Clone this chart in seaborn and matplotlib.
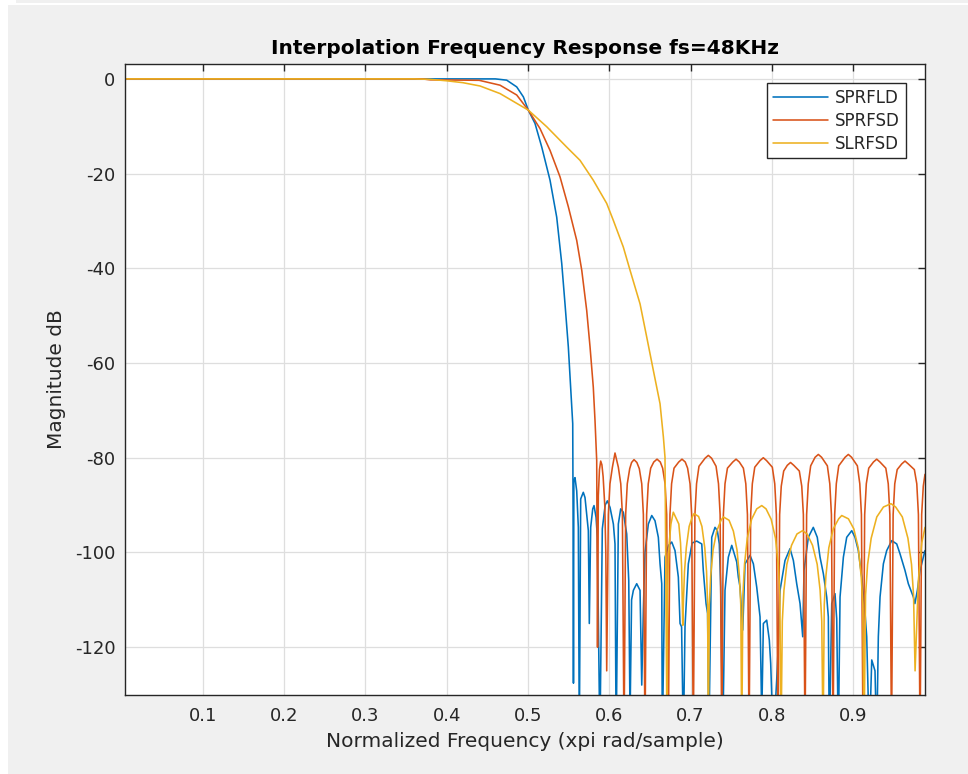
import numpy as np
import pandas as pd
import matplotlib
matplotlib.use('Agg')
import matplotlib.pyplot as plt
import seaborn as sns
from matplotlib.patches import Rectangle

series_names = ['SPRFLD', 'SPRFSD', 'SLRFSD']
series_colors = ['#0072BD', '#D95319', '#EDB120']
x_ticks = [0.1, 0.2, 0.3, 0.4, 0.5, 0.6, 0.7, 0.8, 0.9]
x_tick_labels = ['0.1', '0.2', '0.3', '0.4', '0.5', '0.6', '0.7', '0.8', '0.9']
y_ticks = [-120, -100, -80, -60, -40, -20, 0]
y_tick_labels = ['-120', '-100', '-80', '-60', '-40', '-20', '0']

# SPRFLD (blue)
sprfld_x = [0.0, 0.46, 0.4739, 0.4862, 0.4944, 0.5005, 0.5087, 0.5170, 0.5272, 0.5354,
            0.5416, 0.5456, 0.5497, 0.5526, 0.5551, 0.5556, 0.5560, 0.5565, 0.5579, 0.5600,
            0.5620, 0.5632, 0.5649, 0.5681, 0.5702, 0.5723, 0.5743, 0.5755, 0.5772, 0.5797,
            0.5813, 0.5838, 0.5854, 0.5885, 0.5915, 0.5950, 0.5977, 0.6010, 0.6051, 0.6071,
            0.6085, 0.6112, 0.6141, 0.6173, 0.6215, 0.6240, 0.6256, 0.6275, 0.6297, 0.6338,
            0.6379, 0.6400, 0.6420, 0.6440, 0.6481, 0.6523, 0.6563, 0.6604, 0.6625, 0.6646,
            0.6653, 0.6686, 0.6730, 0.6769, 0.6809, 0.6850, 0.6871, 0.6890, 0.6912, 0.6932,
            0.6973, 0.7020, 0.7076, 0.7138, 0.7157, 0.7191, 0.7210, 0.7225, 0.7261, 0.7301,
            0.7330, 0.7354, 0.7371, 0.7396, 0.7424, 0.7465, 0.7507, 0.7568, 0.7588, 0.7609,
            0.7642, 0.7670, 0.7732, 0.7773, 0.7814, 0.7855, 0.7876, 0.7896, 0.7937, 0.7969,
            0.7986, 0.8018, 0.8060, 0.8080, 0.8101, 0.8162, 0.8224, 0.8265, 0.8306, 0.8347,
            0.8380, 0.8396, 0.8449, 0.8510, 0.8559, 0.8593, 0.8634, 0.8675, 0.8695, 0.8707,
            0.8737, 0.8777, 0.8798, 0.8818, 0.8839, 0.8880, 0.8921, 0.8983, 0.9023, 0.9064,
            0.9106, 0.9147, 0.9167, 0.9199, 0.9229, 0.9269, 0.9290, 0.9310, 0.9331, 0.9372,
            0.9413, 0.9475, 0.9536, 0.9577, 0.9638, 0.9679, 0.9741, 0.9760, 0.9790, 0.9823,
            0.9884]
sprfld_db = [0, 0, -0.27, -1.69, -3.8, -6.6, -9.4, -14.4, -21.4, -29.2,
             -39.0, -47.5, -56.6, -65.1, -72.8, -94.7, -127.6, -84.9, -84.2, -87.0,
             -94.7, -140, -88.7, -87.3, -88.4, -91.9, -95.4, -115, -94.7, -90.8,
             -90.1, -92.6, -96.8, -140, -95, -90, -89.1, -90.5, -94, -98.2,
             -140, -94, -90.8, -91.5, -96.1, -105.9, -135, -110, -108, -106.6,
             -108, -128, -112, -100, -94, -92.2, -93.3, -96.8, -102.4, -106.6,
             -140, -101, -98.5, -97.8, -99.6, -105.2, -115, -115.7, -140, -115.7,
             -102.4, -98, -97.6, -98.2, -103.8, -110.8, -112.9, -140, -96.8, -94.7,
             -95.4, -98.2, -107.3, -140, -108, -101, -98.5, -102, -105.2, -107.3,
             -116.4, -102.4, -100.6, -102.4, -107.3, -113.6, -135, -115, -114.3, -118.5,
             -123.4, -140, -126.9, -119.2, -108, -101.7, -99.2, -101.7, -106.6, -110.8,
             -117.8, -103.8, -96.8, -94.7, -96.8, -101, -104.5, -109.4, -113.6, -140,
             -110.8, -108.7, -114, -140, -109.4, -101, -96.8, -95.4, -96.8, -99.6,
             -105.2, -112.9, -117.8, -140, -122.7, -125, -140, -117.8, -109.4, -102.4,
             -99.6, -97.5, -98.2, -100.3, -103.8, -106.6, -109.4, -110.8, -108, -103.8,
             -99.6]

# SPRFSD (orange)
sprfsd_x = [0.0, 0.37, 0.38, 0.44, 0.4657, 0.4862, 0.5005, 0.5149, 0.5272, 0.5395,
            0.5497, 0.5600, 0.5662, 0.5723, 0.5764, 0.5804, 0.5825, 0.5846, 0.5856,
            0.5866, 0.5880, 0.5895, 0.5910, 0.5925, 0.5945, 0.5958, 0.5969,
            0.5989, 0.6009, 0.6039, 0.6071, 0.6112, 0.6142, 0.6162, 0.6182,
            0.6202, 0.6222, 0.6252, 0.6275, 0.6305, 0.6340, 0.6370, 0.6400, 0.6420, 0.6440,
            0.6460, 0.6480, 0.6510, 0.6548, 0.6588, 0.6628, 0.6657, 0.6687, 0.6707, 0.6727,
            0.6747, 0.6767, 0.6797, 0.6855, 0.6895, 0.6935, 0.6964, 0.6994, 0.7014, 0.7034,
            0.7054, 0.7074, 0.7104, 0.7179, 0.7219, 0.7259, 0.7314, 0.7344, 0.7364, 0.7384,
            0.7404, 0.7424, 0.7454, 0.7520, 0.7560, 0.7600, 0.7650, 0.7680, 0.7700, 0.7720,
            0.7740, 0.7760, 0.7790, 0.7855, 0.7895, 0.7935, 0.8006, 0.8036, 0.8056, 0.8076,
            0.8096, 0.8116, 0.8146, 0.8190, 0.8230, 0.8270, 0.8338, 0.8368, 0.8388, 0.8408,
            0.8428, 0.8448, 0.8478, 0.8532, 0.8572, 0.8612, 0.8683, 0.8713, 0.8733, 0.8753,
            0.8773, 0.8793, 0.8823, 0.8901, 0.8941, 0.8981, 0.9052, 0.9082, 0.9102, 0.9122,
            0.9142, 0.9162, 0.9192, 0.9250, 0.9290, 0.9330, 0.9402, 0.9432, 0.9452, 0.9472,
            0.9492, 0.9512, 0.9542, 0.9598, 0.9638, 0.9678, 0.9753, 0.9783, 0.9803, 0.9823,
            0.9843, 0.9863, 0.9884]
sprfsd_db = [0, 0, -0.2, -0.3, -1.33, -3.4, -6.6, -10.5, -15.1, -20.7,
             -27.0, -34.1, -40.4, -48.9, -56.6, -65.1, -72.1, -80.6, -120,
             -88, -82.5, -80.7, -81.5, -84, -90, -100, -125,
             -92, -85.5, -82, -79, -82, -85.5, -92, -140,
             -92, -85.5, -82.3, -81, -80.4, -81, -82.3, -85.5, -92, -140,
             -92, -85.5, -82.2, -80.9, -80.3, -80.9, -82.2, -85.5, -92, -140,
             -92, -85.5, -82.2, -80.9, -80.3, -80.9, -82.2, -85.5, -92, -140,
             -92, -85.5, -81.8, -80.1, -79.5, -80.1, -81.8, -85.5, -92, -140,
             -92, -85.5, -82.2, -80.9, -80.3, -80.9, -82.2, -85.5, -92, -140,
             -92, -85.5, -82.0, -80.6, -80.0, -80.6, -82.0, -85.5, -92, -140,
             -92, -86.0, -82.8, -81.6, -81.0, -81.6, -82.8, -86.0, -92, -140,
             -92, -85.5, -81.7, -79.9, -79.3, -79.9, -81.7, -85.5, -92, -140,
             -92, -85.5, -81.7, -79.9, -79.3, -79.9, -81.7, -85.5, -92, -140,
             -92, -85.5, -82.2, -80.9, -80.3, -80.9, -82.2, -85.5, -92, -140,
             -92, -85.5, -82.5, -81.3, -80.7, -81.3, -82.5, -85.5, -92, -140,
             -92, -86, -83.5]

# SLRFSD (yellow)
slrfsd_x = [0.0, 0.36, 0.38, 0.40, 0.42, 0.4411, 0.4657, 0.5005, 0.5231, 0.5477,
            0.5641, 0.5804, 0.5969, 0.6051, 0.6173, 0.6256, 0.6379, 0.6461, 0.6542, 0.6625,
            0.6666, 0.6686, 0.6711,
            0.6717, 0.6725, 0.6738, 0.6759, 0.6788, 0.6856, 0.6877, 0.6890, 0.6898, 0.6904,
            0.6913, 0.6926, 0.6948, 0.6983, 0.7024, 0.7043, 0.7099, 0.7140, 0.7175, 0.7197,
            0.7210, 0.7219,
            0.7231, 0.7248, 0.7277, 0.7322, 0.7375, 0.7404, 0.7474, 0.7527, 0.7572, 0.7601,
            0.7618, 0.7630,
            0.7644, 0.7664, 0.7698, 0.7751, 0.7814, 0.7876, 0.7929, 0.7992, 0.8045, 0.8079,
            0.8099, 0.8113,
            0.8129, 0.8149, 0.8185, 0.8242, 0.8309, 0.8378, 0.8434, 0.8501, 0.8558, 0.8594,
            0.8614, 0.8630,
            0.8645, 0.8665, 0.8701, 0.8756, 0.8822, 0.8860, 0.8942, 0.9008, 0.9063, 0.9099,
            0.9119, 0.9134,
            0.9153, 0.9178, 0.9222, 0.9291, 0.9373, 0.9466, 0.9523, 0.9605, 0.9674, 0.9718,
            0.9743, 0.9762,
            0.9802, 0.9844, 0.9884]
slrfsd_db = [0, 0, -0.1, -0.4, -0.8, -1.5, -3.1, -6.6, -10.1, -14.4,
             -17.2, -21.4, -26.3, -29.9, -35.5, -40.4, -47.5, -54.5, -61.5, -68.6,
             -75.6, -79.9, -140,
             -110, -103, -98, -94, -91.5, -94, -98, -103, -110, -115.4,
             -110, -104, -99, -94.5, -92.4, -91.8, -92.4, -94.5, -99, -104,
             -111, -140,
             -111, -105, -99.5, -95.5, -93.2, -92.5, -93.2, -95.5, -99.5, -105,
             -111, -140,
             -109, -102.5, -97, -93, -90.8, -90.1, -90.8, -93, -97, -102.5,
             -109, -140,
             -114.5, -108, -102.5, -98.5, -96.1, -95.4, -96.1, -98.5, -102.5, -108,
             -114.5, -140,
             -111, -105, -99, -95, -92.9, -92.2, -92.9, -95, -99, -105,
             -111, -140,
             -109, -102.5, -97, -92.5, -90.4, -89.7, -90.4, -92.5, -97, -102.5,
             -109, -125,
             -106, -98, -94.7]

sns.set_theme(style='white')
plt.rcParams['font.family'] = ['DejaVu Sans']
plt.rcParams['axes.unicode_minus'] = False

W, H = 968, 774
fig = plt.figure(figsize=(W / 100, H / 100), dpi=100, facecolor='white')
fig.patches.append(Rectangle((8 / W, 0), 1, (H - 5) / H, transform=fig.transFigure,
                             facecolor='#f0f0f0', edgecolor='none', zorder=-10))
fig.patches.append(Rectangle((16 / W, (H - 3) / H), 1, 3 / H, transform=fig.transFigure,
                             facecolor='#f0f0f0', edgecolor='none', zorder=-10))

ax = fig.add_axes([125 / W, (H - 695) / H, 800 / W, (695 - 63.5) / H])
ax.set_facecolor('white')

data = [(sprfld_x, sprfld_db), (sprfsd_x, sprfsd_db), (slrfsd_x, slrfsd_db)]
for name, (xs, ys), c in zip(series_names, data, series_colors):
    df = pd.DataFrame({'f': xs, 'dB': ys})
    sns.lineplot(data=df, x='f', y='dB', ax=ax, color=c, linewidth=1.15, label=name,
                 estimator=None, sort=False)

ax.set_xlim(0.0044, 0.9884)
ax.set_ylim(-130.1, 3.25)
ax.set_xticks(x_ticks)
ax.set_xticklabels(x_tick_labels)
ax.set_yticks(y_ticks)
ax.set_yticklabels(y_tick_labels)
ax.grid(True, color='#dedede', linewidth=0.9)
ax.set_axisbelow(True)
for s in ax.spines.values():
    s.set_color('#262626')
    s.set_linewidth(1.0)
    s.set_visible(True)
ax.tick_params(direction='in', top=True, right=True, length=5, width=1.0,
               color='#262626', labelcolor='#262626', labelsize=13)
ax.tick_params(axis='x', pad=8.5)
ax.tick_params(axis='y', pad=7)

ax.set_xlabel('Normalized Frequency (xpi rad/sample)', fontsize=14.5, color='#262626', labelpad=5)
ax.set_ylabel('Magnitude dB', fontsize=14.5, color='#262626', labelpad=6)
ax.set_title('Interpolation Frequency Response fs=48KHz', fontsize=14.5, fontweight='bold',
             color='black', pad=6.5)

handles, labels = ax.get_legend_handles_labels()
leg = ax.legend(handles, labels, loc='upper right', bbox_to_anchor=(0.9759, 0.9696),
                borderaxespad=0, fontsize=12, frameon=True, fancybox=False, framealpha=1,
                edgecolor='#262626', handlelength=3.3, handletextpad=0.45,
                labelspacing=0.3, borderpad=0.35)
leg.get_frame().set_linewidth(1.0)
for t in leg.get_texts():
    t.set_color('#262626')

fig.savefig('out.png', dpi=100, facecolor=fig.get_facecolor())
